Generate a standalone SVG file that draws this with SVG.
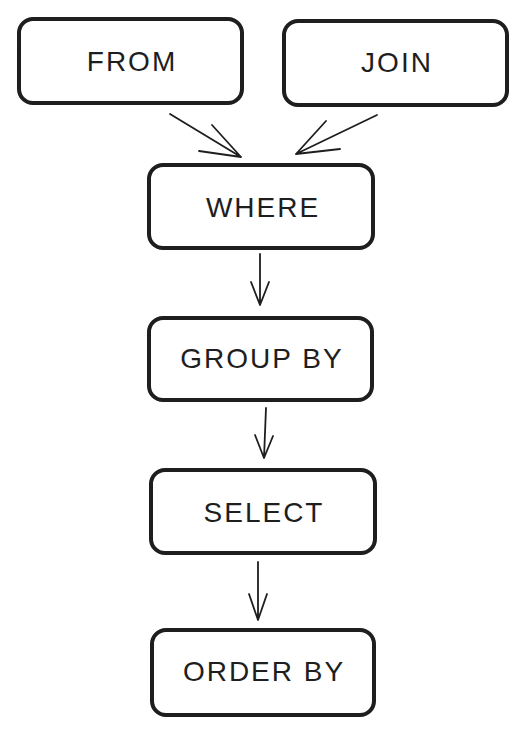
<svg xmlns="http://www.w3.org/2000/svg" width="528" height="735" viewBox="0 0 528 735">
<style>
.box{fill:#fff;stroke:#1e1e1e;stroke-width:4;}
.lbl{font-family:"Liberation Sans",Arial,sans-serif;font-size:28px;fill:#1e1e1e;text-anchor:middle;dominant-baseline:central;letter-spacing:2px;}
.ed{fill:none;stroke:#1e1e1e;stroke-width:1.8;stroke-linecap:round;stroke-linejoin:round;}
</style>
<rect width="528" height="735" fill="#fff"/>
<g id="from"><rect class="box" x="19" y="19" width="223" height="84" rx="14"/><text class="lbl" x="132" y="61">FROM</text></g>
<g id="join"><rect class="box" x="284" y="21" width="223" height="84" rx="14"/><text class="lbl" x="397" y="62">JOIN</text></g>
<g id="where"><rect class="box" x="149" y="165" width="224" height="83" rx="14"/><text class="lbl" x="263" y="207">WHERE</text></g>
<g id="groupby"><rect class="box" x="149" y="318" width="223" height="82" rx="14"/><text class="lbl" x="262" y="358">GROUP BY</text></g>
<g id="select"><rect class="box" x="151" y="470" width="224" height="83" rx="14"/><text class="lbl" x="264" y="512">SELECT</text></g>
<g id="orderby"><rect class="box" x="152" y="630" width="222" height="85" rx="14"/><text class="lbl" x="264" y="671">ORDER BY</text></g>
<g id="connectors">
<path class="ed" d="M170 114 L241 157 M212 125 L241 157 M199 151 L241 157"/>
<path class="ed" d="M377 115 L296 154 M326 121 L296 154 M340 149 L296 154"/>
<path class="ed" d="M260 254 L260 305 M251 282 L260 305 M269 282 L260 305"/>
<path class="ed" d="M266 408 L264 458 M255 435 L264 458 M273 436 L264 458"/>
<path class="ed" d="M258 562 L258 620 M249 594 L258 620 M267 594 L258 620"/>
</g>
</svg>
